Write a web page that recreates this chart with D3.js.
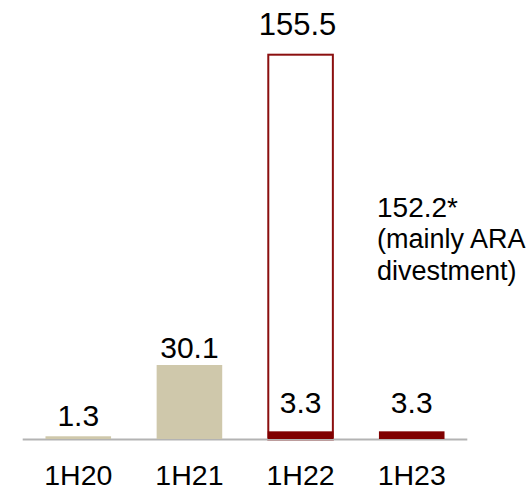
<!DOCTYPE html>
<html>
<head>
<meta charset="utf-8">
<script src="https://cdn.jsdelivr.net/npm/d3@7"></script>
<style>
  html, body { margin: 0; padding: 0; background: #fff; }
  text { font-family: "Liberation Sans", Arial, sans-serif; fill: #000; }
</style>
</head>
<body>
<svg id="chart" width="531" height="490"></svg>
<script>
// Half-year periods and their values
const periods = ["1H20", "1H21", "1H22", "1H23"];
const baseValues = [1.3, 30.1, 3.3, 3.3];          // recurring amount per period
const totalValues = [null, null, 155.5, null];      // total incl. one-off items
const oneOffValues = [null, null, 152.2, null];     // one-off portion
const oneOffNote = ["152.2*", "(mainly ARA", "divestment)"];
const baseColors = ["#cfc8ab", "#cfc8ab", "#800000", "#800000"];

// Label lift above the bar top (px)
const labelLift = [10, 7, 18, 18];

const svg = d3.select("#chart");
const baseline = 439.5;

const x = d3.scaleBand()
  .domain(periods)
  .range([22.7, 467.3])
  .paddingInner(0.41)
  .paddingOuter(0.205);

const y = d3.scaleLinear()
  .domain([0, 155.5])
  .range([baseline, 54.7]);

// Outline boxes for totals
svg.selectAll("rect.total")
  .data(periods.map((p, i) => ({ p, v: totalValues[i] })).filter(d => d.v != null))
  .join("rect")
  .attr("class", "total")
  .attr("x", d => x(d.p) + 0.5)
  .attr("y", d => y(d.v))
  .attr("width", x.bandwidth() - 1)
  .attr("height", d => baseline - y(d.v))
  .attr("fill", "none")
  .attr("stroke", "#8b0f0f")
  .attr("stroke-width", 2);

// Axis baseline
svg.append("line")
  .attr("x1", x.range()[0]).attr("x2", x.range()[1])
  .attr("y1", baseline).attr("y2", baseline)
  .attr("stroke", "#b3b3b3")
  .attr("stroke-width", 2);

// Solid bars
svg.selectAll("rect.base")
  .data(periods.map((p, i) => ({ p, v: baseValues[i], c: baseColors[i] })))
  .join("rect")
  .attr("class", "base")
  .attr("x", d => x(d.p))
  .attr("y", d => y(d.v))
  .attr("width", x.bandwidth())
  .attr("height", d => y(0) - y(d.v) - 0.5)
  .attr("fill", d => d.c);

// Value labels on the solid bars
svg.selectAll("text.val")
  .data(periods.map((p, i) => ({ p, v: baseValues[i], lift: labelLift[i] })))
  .join("text")
  .attr("class", "val")
  .attr("x", d => x(d.p) + x.bandwidth() / 2)
  .attr("y", d => y(d.v) - d.lift)
  .attr("text-anchor", "middle")
  .attr("font-size", 30)
  .text(d => d3.format(".1f")(d.v));

// Total label above the outline box
periods.forEach((p, i) => {
  if (totalValues[i] == null) return;
  svg.append("text")
    .attr("x", x(p) + x.bandwidth() / 2 - 3)
    .attr("y", y(totalValues[i]) - 20)
    .attr("text-anchor", "middle")
    .attr("font-size", 31)
    .text(d3.format(".1f")(totalValues[i]));
});

// One-off annotation
const note = svg.append("text")
  .attr("x", 377)
  .attr("y", 217)
  .attr("font-size", 28);
note.append("tspan").attr("x", 377).text(oneOffNote[0]);
note.append("tspan").attr("x", 377).attr("dy", 31).attr("font-size", 27).text(oneOffNote[1]);
note.append("tspan").attr("x", 377).attr("dy", 32).attr("font-size", 27).text(oneOffNote[2]);

// Category labels
svg.selectAll("text.cat")
  .data(periods)
  .join("text")
  .attr("class", "cat")
  .attr("x", d => x(d) + x.bandwidth() / 2)
  .attr("y", 484.5)
  .attr("text-anchor", "middle")
  .attr("font-size", 28.5)
  .text(d => d);
</script>
</body>
</html>
